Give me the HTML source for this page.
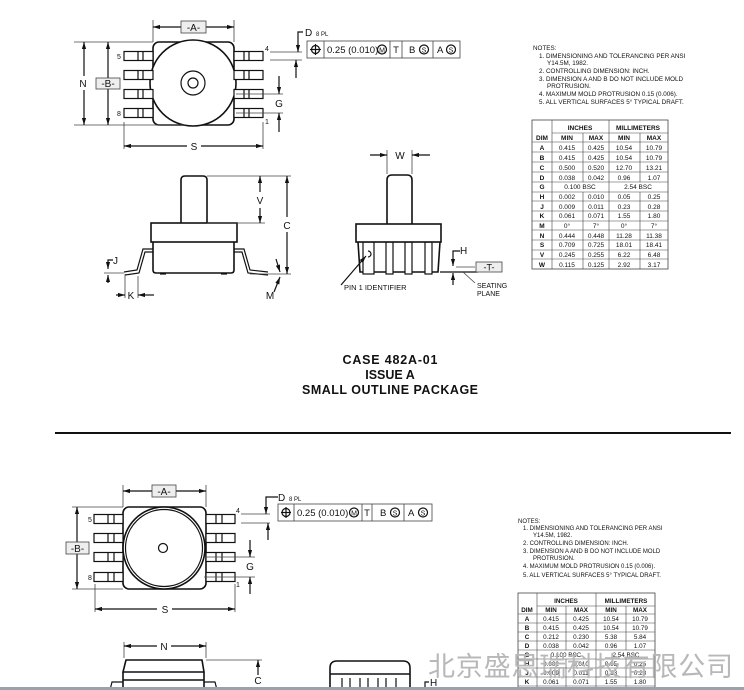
<!DOCTYPE html>
<html><head><meta charset="utf-8"><style>
html,body{margin:0;padding:0;background:#fff;width:744px;height:690px;overflow:hidden}
svg{display:block}
text{font-family:"Liberation Sans",Arial,sans-serif;fill:#111}
.s{stroke:#111;fill:none;stroke-width:1.2}
.b{stroke:#111;fill:#fff;stroke-width:1.6}
.t{stroke:#444;fill:none;stroke-width:0.8}
</style></head><body>
<svg width="744" height="690" viewBox="0 0 744 690" xmlns="http://www.w3.org/2000/svg">
<defs>
<marker id="a" viewBox="0 0 10 10" refX="10" refY="5" markerWidth="6" markerHeight="6" orient="auto-start-reverse"><path d="M0,2 L10,5 L0,8 z" fill="#111"/></marker>
</defs>

<g>
<rect x="153" y="42" width="81" height="83" rx="6" class="b"/>
<circle cx="193" cy="83" r="43" class="b"/>
<circle cx="193" cy="83" r="12" class="s"/>
<circle cx="193" cy="83" r="5" class="s"/>
<g class="s">
<rect x="124" y="51.5" width="29" height="9" fill="#fff"/><line x1="138" y1="51.5" x2="138" y2="60.5"/><line x1="143" y1="51.5" x2="143" y2="60.5"/>
<rect x="124" y="70.5" width="29" height="9" fill="#fff"/><line x1="138" y1="70.5" x2="138" y2="79.5"/><line x1="143" y1="70.5" x2="143" y2="79.5"/>
<rect x="124" y="89.5" width="29" height="9" fill="#fff"/><line x1="138" y1="89.5" x2="138" y2="98.5"/><line x1="143" y1="89.5" x2="143" y2="98.5"/>
<rect x="124" y="108.5" width="29" height="9" fill="#fff"/><line x1="138" y1="108.5" x2="138" y2="117.5"/><line x1="143" y1="108.5" x2="143" y2="117.5"/>
<rect x="234" y="51.5" width="29" height="9" fill="#fff"/><line x1="244" y1="51.5" x2="244" y2="60.5"/><line x1="249" y1="51.5" x2="249" y2="60.5"/>
<rect x="234" y="70.5" width="29" height="9" fill="#fff"/><line x1="244" y1="70.5" x2="244" y2="79.5"/><line x1="249" y1="70.5" x2="249" y2="79.5"/>
<rect x="234" y="89.5" width="29" height="9" fill="#fff"/><line x1="244" y1="89.5" x2="244" y2="98.5"/><line x1="249" y1="89.5" x2="249" y2="98.5"/>
<rect x="234" y="108.5" width="29" height="9" fill="#fff"/><line x1="244" y1="108.5" x2="244" y2="117.5"/><line x1="249" y1="108.5" x2="249" y2="117.5"/>
</g>
<text x="117" y="59" font-size="7">5</text><text x="117" y="116" font-size="7">8</text>
<text x="265" y="51" font-size="7">4</text><text x="265" y="124" font-size="7">1</text>
<g class="t"><line x1="153" y1="20" x2="153" y2="42"/><line x1="234" y1="20" x2="234" y2="42"/></g>
<line x1="153" y1="27" x2="181" y2="27" class="s" marker-start="url(#a)"/>
<line x1="206" y1="27" x2="234" y2="27" class="s" marker-end="url(#a)"/>
<rect x="181" y="21" width="25" height="12" fill="#eee" stroke="#444" stroke-width="0.8"/>
<text x="193.5" y="31" font-size="10" text-anchor="middle">-A-</text>
<g class="t"><line x1="74" y1="42" x2="153" y2="42"/><line x1="74" y1="125" x2="185" y2="125"/></g>
<line x1="84" y1="42" x2="84" y2="76" class="s" marker-start="url(#a)"/>
<line x1="84" y1="90" x2="84" y2="125" class="s" marker-end="url(#a)"/>
<text x="83" y="87" font-size="10" text-anchor="middle">N</text>
<line x1="108" y1="42" x2="108" y2="78" class="s" marker-start="url(#a)"/>
<line x1="108" y1="89" x2="108" y2="125" class="s" marker-end="url(#a)"/>
<rect x="96" y="78" width="24" height="11" fill="#eee" stroke="#444" stroke-width="0.8"/>
<text x="108" y="87" font-size="10" text-anchor="middle">-B-</text>
<g class="t"><line x1="124" y1="122" x2="124" y2="149"/><line x1="263" y1="122" x2="263" y2="149"/></g>
<line x1="124" y1="146" x2="187" y2="146" class="s" marker-start="url(#a)"/>
<line x1="201" y1="146" x2="263" y2="146" class="s" marker-end="url(#a)"/>
<text x="194" y="150" font-size="10" text-anchor="middle">S</text>
<g class="t"><line x1="236" y1="94" x2="283" y2="94"/><line x1="236" y1="113" x2="283" y2="113"/></g>
<line x1="279" y1="76" x2="279" y2="94" class="s" marker-end="url(#a)"/>
<line x1="279" y1="132" x2="279" y2="113" class="s" marker-end="url(#a)"/>
<text x="279" y="107" font-size="10" text-anchor="middle">G</text>
<g class="t"><line x1="270" y1="52" x2="302" y2="52"/><line x1="270" y1="60" x2="302" y2="60"/></g>
<polyline points="303,32 298,32 298,52" class="s" marker-end="url(#a)"/>
<line x1="296" y1="78" x2="296" y2="60" class="s" marker-end="url(#a)"/>
<text x="305" y="36" font-size="10">D</text><text x="316" y="36" font-size="6">8 PL</text>
<rect x="307" y="41" width="153" height="17" fill="#fff" stroke="#444" stroke-width="0.8"/>
<g stroke="#444" stroke-width="0.8"><line x1="324" y1="41" x2="324" y2="58"/><line x1="390" y1="41" x2="390" y2="58"/><line x1="402" y1="41" x2="402" y2="58"/><line x1="433" y1="41" x2="433" y2="58"/></g>
<circle cx="315.5" cy="49.5" r="4" class="s"/><line x1="310" y1="49.5" x2="321" y2="49.5" class="s"/><line x1="315.5" y1="44" x2="315.5" y2="55" class="s"/>
<text x="327" y="53" font-size="9.5">0.25 (0.010)</text>
<circle cx="382" cy="49.5" r="4.5" class="s"/><text x="382" y="52.5" font-size="7" text-anchor="middle">M</text>
<text x="396" y="53" font-size="9.5" text-anchor="middle">T</text>
<text x="409" y="53" font-size="9.5">B</text><circle cx="424" cy="49.5" r="4.5" class="s"/><text x="424" y="52.5" font-size="7" text-anchor="middle">S</text>
<text x="437" y="53" font-size="9.5">A</text><circle cx="451" cy="49.5" r="4.5" class="s"/><text x="451" y="52.5" font-size="7" text-anchor="middle">S</text>
</g>

<g>
<path d="M181,223 L181,180 Q181,176 185,176 L203,176 Q207,176 207,180 L207,223" class="b"/>
<path d="M153,242 L153,270 Q153,273 156,273 L231,273 Q234,273 234,270 L234,242" class="b"/>
<rect x="151" y="223" width="86" height="19" class="b"/>
<g class="s"><line x1="160" y1="274" x2="166" y2="274"/><line x1="221" y1="274" x2="227" y2="274"/></g>
<path d="M153,249 L143,249 L137,270 L124,272 M153,252 L145,252 L139,273 L125,275" class="s"/>
<path d="M234,249 L244,249 L250,270 L268,272 M234,252 L242,252 L248,273 L268,275" class="s"/>
<g class="t"><line x1="207" y1="176" x2="291" y2="176"/><line x1="207" y1="223" x2="265" y2="223"/><line x1="250" y1="274" x2="291" y2="274"/></g>
<line x1="260" y1="192" x2="260" y2="176" class="s" marker-end="url(#a)"/>
<line x1="260" y1="208" x2="260" y2="223" class="s" marker-end="url(#a)"/>
<text x="260" y="204" font-size="10" text-anchor="middle">V</text>
<line x1="287" y1="217" x2="287" y2="176" class="s" marker-end="url(#a)"/>
<line x1="287" y1="232" x2="287" y2="274" class="s" marker-end="url(#a)"/>
<text x="287" y="229" font-size="10" text-anchor="middle">C</text>
<polyline points="113,260 108,260 108,269" class="s" marker-end="url(#a)"/>
<line x1="108" y1="283" x2="108" y2="275" class="s" marker-end="url(#a)"/>
<line x1="104" y1="273" x2="124" y2="273" class="t"/>
<text x="113" y="264" font-size="10">J</text>
<g class="t"><line x1="125" y1="274" x2="125" y2="298"/><line x1="138" y1="276" x2="138" y2="298"/></g>
<line x1="116" y1="295" x2="125" y2="295" class="s" marker-end="url(#a)"/>
<line x1="154" y1="295" x2="138" y2="295" class="s" marker-end="url(#a)"/>
<text x="131" y="299" font-size="10" text-anchor="middle">K</text>
<path d="M276,259 L280,272" class="s" marker-end="url(#a)"/>
<path d="M274,292 L280,277" class="s" marker-end="url(#a)"/>
<text x="270" y="299" font-size="10" text-anchor="middle">M</text>
</g>

<g>
<path d="M387,224 L387,180 Q387,175 392,175 L407,175 Q412,175 412,180 L412,224" class="b"/>
<path d="M358,242 L360,272 L438,272 L440,242" class="b"/>
<g class="s">
<rect x="363" y="242" width="11" height="32" fill="#fff"/>
<rect x="386" y="242" width="7" height="32" fill="#fff"/>
<rect x="405" y="242" width="7" height="32" fill="#fff"/>
<rect x="425" y="242" width="7" height="32" fill="#fff"/>
<path d="M368,251 a3,3 0 1 1 0,6"/>
</g>
<rect x="356" y="224" width="85" height="18" class="b"/>
<g class="t"><line x1="387" y1="150" x2="387" y2="174"/><line x1="412" y1="150" x2="412" y2="174"/></g>
<line x1="370" y1="155" x2="387" y2="155" class="s" marker-end="url(#a)"/>
<line x1="430" y1="155" x2="412" y2="155" class="s" marker-end="url(#a)"/>
<text x="400" y="159" font-size="10" text-anchor="middle">W</text>
<line x1="440" y1="272" x2="478" y2="272" class="s"/>
<line x1="456" y1="267" x2="475" y2="267" class="t"/>
<polyline points="460,251 453,251 453,266" class="s" marker-end="url(#a)"/>
<line x1="453" y1="285" x2="453" y2="273" class="s" marker-end="url(#a)"/>
<text x="460" y="254" font-size="10">H</text>
<rect x="476" y="262" width="26" height="10" fill="#eee" stroke="#444" stroke-width="0.8"/>
<text x="489" y="270.5" font-size="9" text-anchor="middle">-T-</text>
<line x1="463" y1="272" x2="475" y2="283" class="t"/>
<text x="477" y="288" font-size="7">SEATING</text><text x="477" y="296" font-size="7">PLANE</text>
<path d="M341,285 L366,256" class="s" marker-end="url(#a)"/>
<text x="344" y="290" font-size="7.5">PIN 1 IDENTIFIER</text>
</g>

<g font-weight="bold" font-size="12.5" text-anchor="middle">
<text x="390" y="364" font-weight="bold" textLength="95">CASE 482A-01</text>
<text x="390" y="379" font-weight="bold">ISSUE A</text>
<text x="390" y="394" font-weight="bold" textLength="176">SMALL OUTLINE PACKAGE</text>
</g>

<g font-size="6.3">
<text x="533" y="50">NOTES:</text>
<text x="539" y="58">1.  DIMENSIONING AND TOLERANCING PER ANSI</text>
<text x="547" y="65">Y14.5M, 1982.</text>
<text x="539" y="73">2.  CONTROLLING DIMENSION: INCH.</text>
<text x="539" y="81">3.  DIMENSION A AND B DO NOT INCLUDE MOLD</text>
<text x="547" y="88">PROTRUSION.</text>
<text x="539" y="96">4.  MAXIMUM MOLD PROTRUSION 0.15 (0.006).</text>
<text x="539" y="104">5.  ALL VERTICAL SURFACES 5° TYPICAL DRAFT.</text>
</g>

<g font-size="6.5">
<rect x="532" y="120" width="136" height="149" fill="#fff" stroke="#444" stroke-width="0.8"/>
<g stroke="#444" stroke-width="0.6">
<line x1="552" y1="120" x2="552" y2="269"/>
<line x1="609" y1="120" x2="609" y2="269"/>
<line x1="583" y1="133" x2="583" y2="182"/><line x1="583" y1="192" x2="583" y2="269"/>
<line x1="640" y1="133" x2="640" y2="182"/><line x1="640" y1="192" x2="640" y2="269"/>
<line x1="552" y1="133" x2="668" y2="133"/>
<line x1="532" y1="142" x2="668" y2="142"/>
<line x1="532" y1="152" x2="668" y2="152"/><line x1="532" y1="162" x2="668" y2="162"/><line x1="532" y1="172" x2="668" y2="172"/>
<line x1="532" y1="182" x2="668" y2="182"/><line x1="532" y1="192" x2="668" y2="192"/><line x1="532" y1="201" x2="668" y2="201"/>
<line x1="532" y1="211" x2="668" y2="211"/><line x1="532" y1="221" x2="668" y2="221"/><line x1="532" y1="230" x2="668" y2="230"/>
<line x1="532" y1="240" x2="668" y2="240"/><line x1="532" y1="250" x2="668" y2="250"/><line x1="532" y1="259" x2="668" y2="259"/>
</g>
<g text-anchor="middle">
<text x="580" y="130" font-weight="bold">INCHES</text><text x="638" y="130" font-weight="bold">MILLIMETERS</text>
<text x="542" y="140" font-weight="bold">DIM</text><text x="567" y="140" font-weight="bold">MIN</text><text x="596" y="140" font-weight="bold">MAX</text><text x="624" y="140" font-weight="bold">MIN</text><text x="654" y="140" font-weight="bold">MAX</text>
<text x="542" y="150" font-weight="bold">A</text><text x="567" y="150">0.415</text><text x="596" y="150">0.425</text><text x="624" y="150">10.54</text><text x="654" y="150">10.79</text>
<text x="542" y="160" font-weight="bold">B</text><text x="567" y="160">0.415</text><text x="596" y="160">0.425</text><text x="624" y="160">10.54</text><text x="654" y="160">10.79</text>
<text x="542" y="170" font-weight="bold">C</text><text x="567" y="170">0.500</text><text x="596" y="170">0.520</text><text x="624" y="170">12.70</text><text x="654" y="170">13.21</text>
<text x="542" y="180" font-weight="bold">D</text><text x="567" y="180">0.038</text><text x="596" y="180">0.042</text><text x="624" y="180">0.96</text><text x="654" y="180">1.07</text>
<text x="542" y="189" font-weight="bold">G</text><text x="580" y="189">0.100 BSC</text><text x="638" y="189">2.54 BSC</text>
<text x="542" y="199" font-weight="bold">H</text><text x="567" y="199">0.002</text><text x="596" y="199">0.010</text><text x="624" y="199">0.05</text><text x="654" y="199">0.25</text>
<text x="542" y="209" font-weight="bold">J</text><text x="567" y="209">0.009</text><text x="596" y="209">0.011</text><text x="624" y="209">0.23</text><text x="654" y="209">0.28</text>
<text x="542" y="218" font-weight="bold">K</text><text x="567" y="218">0.061</text><text x="596" y="218">0.071</text><text x="624" y="218">1.55</text><text x="654" y="218">1.80</text>
<text x="542" y="228" font-weight="bold">M</text><text x="567" y="228">0°</text><text x="596" y="228">7°</text><text x="624" y="228">0°</text><text x="654" y="228">7°</text>
<text x="542" y="238" font-weight="bold">N</text><text x="567" y="238">0.444</text><text x="596" y="238">0.448</text><text x="624" y="238">11.28</text><text x="654" y="238">11.38</text>
<text x="542" y="247" font-weight="bold">S</text><text x="567" y="247">0.709</text><text x="596" y="247">0.725</text><text x="624" y="247">18.01</text><text x="654" y="247">18.41</text>
<text x="542" y="257" font-weight="bold">V</text><text x="567" y="257">0.245</text><text x="596" y="257">0.255</text><text x="624" y="257">6.22</text><text x="654" y="257">6.48</text>
<text x="542" y="267" font-weight="bold">W</text><text x="567" y="267">0.115</text><text x="596" y="267">0.125</text><text x="624" y="267">2.92</text><text x="654" y="267">3.17</text>
</g>
</g>

<line x1="55" y1="433" x2="731" y2="433" stroke="#111" stroke-width="2"/>

<g>
<rect x="123" y="507" width="83" height="82" rx="6" class="b"/>
<circle cx="164" cy="548" r="41" class="b"/>
<circle cx="164" cy="548" r="38.5" class="s"/>
<circle cx="163" cy="548" r="4.5" class="s"/>
<g class="s">
<rect x="94" y="514.5" width="29" height="9" fill="#fff"/><line x1="108" y1="514.5" x2="108" y2="523.5"/><line x1="114" y1="514.5" x2="114" y2="523.5"/>
<rect x="94" y="533.5" width="29" height="9" fill="#fff"/><line x1="108" y1="533.5" x2="108" y2="542.5"/><line x1="114" y1="533.5" x2="114" y2="542.5"/>
<rect x="94" y="552.5" width="29" height="9" fill="#fff"/><line x1="108" y1="552.5" x2="108" y2="561.5"/><line x1="114" y1="552.5" x2="114" y2="561.5"/>
<rect x="94" y="572.5" width="29" height="9" fill="#fff"/><line x1="108" y1="572.5" x2="108" y2="581.5"/><line x1="114" y1="572.5" x2="114" y2="581.5"/>
<rect x="206" y="514.5" width="29" height="9" fill="#fff"/><line x1="216" y1="514.5" x2="216" y2="523.5"/><line x1="222" y1="514.5" x2="222" y2="523.5"/>
<rect x="206" y="533.5" width="29" height="9" fill="#fff"/><line x1="216" y1="533.5" x2="216" y2="542.5"/><line x1="222" y1="533.5" x2="222" y2="542.5"/>
<rect x="206" y="552.5" width="29" height="9" fill="#fff"/><line x1="216" y1="552.5" x2="216" y2="561.5"/><line x1="222" y1="552.5" x2="222" y2="561.5"/>
<rect x="206" y="572.5" width="29" height="9" fill="#fff"/><line x1="216" y1="572.5" x2="216" y2="581.5"/><line x1="222" y1="572.5" x2="222" y2="581.5"/>
</g>
<text x="88" y="522" font-size="7">5</text><text x="88" y="580" font-size="7">8</text>
<text x="236" y="513" font-size="7">4</text><text x="236" y="587" font-size="7">1</text>
<g class="t"><line x1="123" y1="485" x2="123" y2="507"/><line x1="206" y1="485" x2="206" y2="507"/></g>
<line x1="123" y1="491" x2="152" y2="491" class="s" marker-start="url(#a)"/>
<line x1="176" y1="491" x2="206" y2="491" class="s" marker-end="url(#a)"/>
<rect x="152" y="485" width="24" height="12" fill="#eee" stroke="#444" stroke-width="0.8"/>
<text x="164" y="495" font-size="10" text-anchor="middle">-A-</text>
<g class="t"><line x1="72" y1="507" x2="123" y2="507"/><line x1="72" y1="589" x2="123" y2="589"/></g>
<line x1="77" y1="507" x2="77" y2="542" class="s" marker-start="url(#a)"/>
<line x1="77" y1="554" x2="77" y2="589" class="s" marker-end="url(#a)"/>
<rect x="66" y="542" width="23" height="12" fill="#eee" stroke="#444" stroke-width="0.8"/>
<text x="77.5" y="552" font-size="10" text-anchor="middle">-B-</text>
<g class="t"><line x1="95" y1="584" x2="95" y2="612"/><line x1="235" y1="584" x2="235" y2="612"/></g>
<line x1="95" y1="609" x2="157" y2="609" class="s" marker-start="url(#a)"/>
<line x1="172" y1="609" x2="235" y2="609" class="s" marker-end="url(#a)"/>
<text x="165" y="613" font-size="10" text-anchor="middle">S</text>
<g class="t"><line x1="204" y1="557" x2="255" y2="557"/><line x1="204" y1="577" x2="255" y2="577"/></g>
<line x1="250" y1="540" x2="250" y2="557" class="s" marker-end="url(#a)"/>
<line x1="250" y1="594" x2="250" y2="577" class="s" marker-end="url(#a)"/>
<text x="250" y="570" font-size="10" text-anchor="middle">G</text>
<g class="t"><line x1="241" y1="514" x2="270" y2="514"/><line x1="241" y1="523" x2="270" y2="523"/></g>
<polyline points="278,497 266,497 266,514" class="s" marker-end="url(#a)"/>
<line x1="268" y1="540" x2="268" y2="523" class="s" marker-end="url(#a)"/>
<text x="278" y="501" font-size="10">D</text><text x="289" y="501" font-size="6">8 PL</text>
<rect x="278" y="504" width="154" height="17" fill="#fff" stroke="#444" stroke-width="0.8"/>
<g stroke="#444" stroke-width="0.8"><line x1="294" y1="504" x2="294" y2="521"/><line x1="362" y1="504" x2="362" y2="521"/><line x1="372" y1="504" x2="372" y2="521"/><line x1="404" y1="504" x2="404" y2="521"/></g>
<circle cx="286" cy="512.5" r="4" class="s"/><line x1="281" y1="512.5" x2="291" y2="512.5" class="s"/><line x1="286" y1="507" x2="286" y2="518" class="s"/>
<text x="297" y="516" font-size="9.5">0.25 (0.010)</text>
<circle cx="354" cy="512.5" r="4.5" class="s"/><text x="354" y="515.5" font-size="7" text-anchor="middle">M</text>
<text x="367" y="516" font-size="9.5" text-anchor="middle">T</text>
<text x="380" y="516" font-size="9.5">B</text><circle cx="395" cy="512.5" r="4.5" class="s"/><text x="395" y="515.5" font-size="7" text-anchor="middle">S</text>
<text x="408" y="516" font-size="9.5">A</text><circle cx="423" cy="512.5" r="4.5" class="s"/><text x="423" y="515.5" font-size="7" text-anchor="middle">S</text>
<g class="t"><line x1="124" y1="642" x2="124" y2="658"/><line x1="206" y1="642" x2="206" y2="658"/></g>
<line x1="124" y1="646" x2="157" y2="646" class="s" marker-start="url(#a)"/>
<line x1="171" y1="646" x2="206" y2="646" class="s" marker-end="url(#a)"/>
<text x="164" y="650" font-size="10" text-anchor="middle">N</text>
<path d="M123,672 L126,660 L202,660 L204,672 Z M123,672 L123,688 M204,672 L204,688 M123,680 L204,680" class="b"/>
<path d="M110,690 L112,682 L123,682 M217,690 L215,682 L204,682" class="s"/>
<line x1="206" y1="660" x2="262" y2="660" class="t"/>
<line x1="258" y1="675" x2="258" y2="660" class="s" marker-end="url(#a)"/>
<text x="258" y="684" font-size="10" text-anchor="middle">C</text>
<path d="M330,690 L330,668 Q330,661 337,661 L403,661 Q410,661 410,668 L410,690 M330,674 L410,674" class="b"/>
<g class="s"><line x1="342" y1="678" x2="342" y2="690"/><line x1="350" y1="678" x2="350" y2="690"/><line x1="360" y1="678" x2="360" y2="690"/><line x1="368" y1="678" x2="368" y2="690"/><line x1="378" y1="678" x2="378" y2="690"/><line x1="386" y1="678" x2="386" y2="690"/><line x1="396" y1="678" x2="396" y2="690"/></g>
<polyline points="429,682 425,682 425,690" class="s"/>
<text x="430" y="686" font-size="10">H</text>
<g font-size="6">
<text x="518" y="523">NOTES:</text>
<text x="523" y="530">1.  DIMENSIONING AND TOLERANCING PER ANSI</text>
<text x="533" y="537">Y14.5M, 1982.</text>
<text x="523" y="545">2.  CONTROLLING DIMENSION: INCH.</text>
<text x="523" y="553">3.  DIMENSION A AND B DO NOT INCLUDE MOLD</text>
<text x="533" y="560">PROTRUSION.</text>
<text x="523" y="568">4.  MAXIMUM MOLD PROTRUSION 0.15 (0.006).</text>
<text x="523" y="577">5.  ALL VERTICAL SURFACES 5° TYPICAL DRAFT.</text>
</g>
<g font-size="6.3">
<rect x="518" y="593" width="137" height="100" fill="#fff" stroke="#444" stroke-width="0.8"/>
<g stroke="#444" stroke-width="0.6">
<line x1="537" y1="593" x2="537" y2="690"/><line x1="596" y1="593" x2="596" y2="690"/>
<line x1="566" y1="606" x2="566" y2="650"/><line x1="566" y1="659" x2="566" y2="690"/>
<line x1="626" y1="606" x2="626" y2="650"/><line x1="626" y1="659" x2="626" y2="690"/>
<line x1="537" y1="606" x2="655" y2="606"/>
<line x1="518" y1="614" x2="655" y2="614"/><line x1="518" y1="623" x2="655" y2="623"/><line x1="518" y1="632" x2="655" y2="632"/>
<line x1="518" y1="641" x2="655" y2="641"/><line x1="518" y1="650" x2="655" y2="650"/><line x1="518" y1="659" x2="655" y2="659"/>
<line x1="518" y1="668" x2="655" y2="668"/><line x1="518" y1="677" x2="655" y2="677"/><line x1="518" y1="686" x2="655" y2="686"/>
</g>
<g text-anchor="middle">
<text x="566" y="603" font-weight="bold">INCHES</text><text x="626" y="603" font-weight="bold">MILLIMETERS</text>
<text x="527" y="612" font-weight="bold">DIM</text><text x="551" y="612" font-weight="bold">MIN</text><text x="581" y="612" font-weight="bold">MAX</text><text x="611" y="612" font-weight="bold">MIN</text><text x="640" y="612" font-weight="bold">MAX</text>
<text x="527" y="621" font-weight="bold">A</text><text x="551" y="621">0.415</text><text x="581" y="621">0.425</text><text x="611" y="621">10.54</text><text x="640" y="621">10.79</text>
<text x="527" y="630" font-weight="bold">B</text><text x="551" y="630">0.415</text><text x="581" y="630">0.425</text><text x="611" y="630">10.54</text><text x="640" y="630">10.79</text>
<text x="527" y="639" font-weight="bold">C</text><text x="551" y="639">0.212</text><text x="581" y="639">0.230</text><text x="611" y="639">5.38</text><text x="640" y="639">5.84</text>
<text x="527" y="648" font-weight="bold">D</text><text x="551" y="648">0.038</text><text x="581" y="648">0.042</text><text x="611" y="648">0.96</text><text x="640" y="648">1.07</text>
<text x="527" y="657" font-weight="bold">G</text><text x="566" y="657">0.100 BSC</text><text x="626" y="657">2.54 BSC</text>
<text x="527" y="666" font-weight="bold">H</text><text x="551" y="666">0.002</text><text x="581" y="666">0.010</text><text x="611" y="666">0.05</text><text x="640" y="666">0.25</text>
<text x="527" y="675" font-weight="bold">J</text><text x="551" y="675">0.009</text><text x="581" y="675">0.011</text><text x="611" y="675">0.23</text><text x="640" y="675">0.28</text>
<text x="527" y="684" font-weight="bold">K</text><text x="551" y="684">0.061</text><text x="581" y="684">0.071</text><text x="611" y="684">1.55</text><text x="640" y="684">1.80</text>
</g>
</g>
</g>

<text x="428" y="676" font-size="27" style="fill:#b8b8b8;font-family:'Liberation Sans','Noto Sans CJK SC',sans-serif" textLength="305">北京盛思瑞科技有限公司</text>
<rect x="0" y="687" width="744" height="3" fill="#9aa3ab"/>
</svg>
</body></html>
